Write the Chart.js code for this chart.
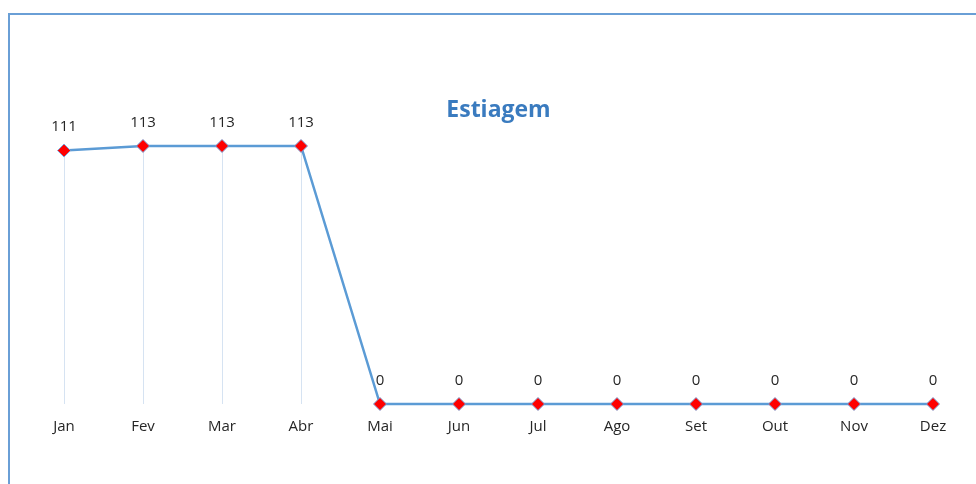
<!DOCTYPE html>
<html>
<head>
<meta charset="utf-8">
<script src="https://cdn.jsdelivr.net/npm/chart.js@4/dist/chart.umd.min.js"></script>
<style>
  html, body { margin: 0; padding: 0; background: #fff; overflow: hidden; width: 976px; height: 484px; }
  #frame { position: absolute; left: 8px; top: 13px; width: 1000px; height: 500px; border: 2px solid #6a9fd6; box-sizing: border-box; }
  #wrap { position: absolute; left: 0; top: 0; width: 980px; height: 484px; }
</style>
</head>
<body>
<div id="frame"></div>
<div id="wrap"><canvas id="chart"></canvas></div>
<script>
const months = ["Jan", "Fev", "Mar", "Abr", "Mai", "Jun", "Jul", "Ago", "Set", "Out", "Nov", "Dez"];
const estiagem = [111, 113, 113, 113, 0, 0, 0, 0, 0, 0, 0, 0];

// drop lines + value labels, drawn from the point positions
const extras = {
  id: 'extras',
  beforeDatasetsDraw(chart) {
    const ctx = chart.ctx;
    const meta = chart.getDatasetMeta(0);
    const bottom = chart.scales.y.getPixelForValue(0);
    ctx.save();
    ctx.strokeStyle = '#d6e3f2';
    ctx.lineWidth = 1;
    meta.data.forEach(pt => {
      ctx.beginPath();
      ctx.moveTo(Math.round(pt.x) + 0.5, pt.y);
      ctx.lineTo(Math.round(pt.x) + 0.5, bottom);
      ctx.stroke();
    });
    ctx.restore();
  },
  afterDatasetsDraw(chart) {
    const ctx = chart.ctx;
    const meta = chart.getDatasetMeta(0);
    ctx.save();
    ctx.font = '15px "Open Sans"';
    ctx.fillStyle = '#262626';
    ctx.textAlign = 'center';
    ctx.textBaseline = 'middle';
    meta.data.forEach((pt, i) => {
      ctx.fillText(estiagem[i], pt.x, pt.y - 23.5);
    });
    ctx.restore();
  }
};

new Chart(document.getElementById('chart'), {
  type: 'line',
  data: {
    labels: months,
    datasets: [{
      label: 'Estiagem',
      data: estiagem,
      borderColor: '#5b9bd5',
      borderWidth: 2.5,
      pointStyle: 'rectRot',
      pointRadius: 6.5,
      pointBackgroundColor: '#ff0000',
      pointBorderColor: '#7aa7dc',
      pointBorderWidth: 1,
      tension: 0,
      clip: false
    }]
  },
  options: {
    responsive: true,
    maintainAspectRatio: false,
    animation: false,
    layout: { padding: { top: 94, left: 24.5, right: 0, bottom: 34 } },
    plugins: {
      legend: { display: false },
      tooltip: { enabled: false },
      title: {
        display: true,
        text: 'Estiagem',
        fullSize: false,
        color: '#3a7bbf',
        font: { family: 'Open Sans', size: 23, weight: 'bold', lineHeight: 1.2 },
        padding: { top: 3, bottom: 5.4 }
      }
    },
    scales: {
      x: {
        offset: true,
        grid: { display: false, drawTicks: false },
        border: { display: false },
        ticks: { color: '#262626', padding: 14, font: { family: 'Open Sans', size: 15 } }
      },
      y: {
        display: false,
        min: 0,
        max: 120
      }
    }
  },
  plugins: [extras]
});
</script>
</body>
</html>
